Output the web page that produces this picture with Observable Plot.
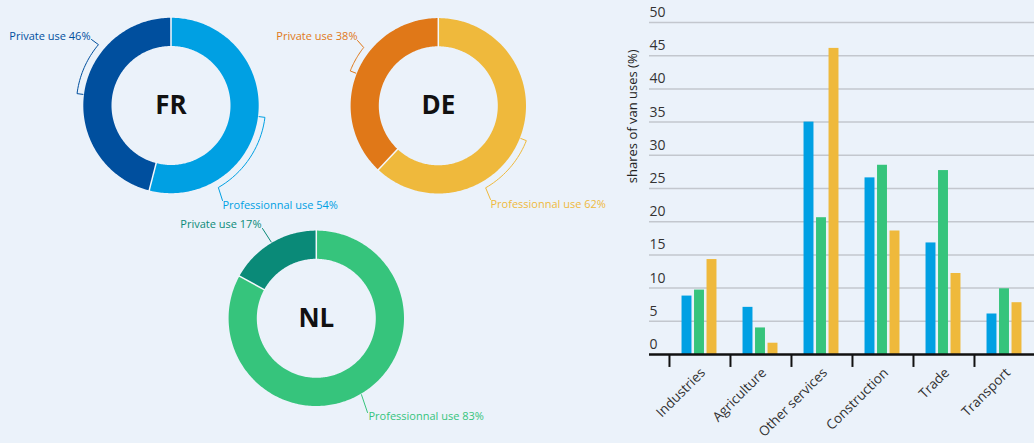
<!DOCTYPE html>
<html>
<head>
<meta charset="utf-8">
<script src="https://cdn.jsdelivr.net/npm/d3@7"></script>
<script src="https://cdn.jsdelivr.net/npm/@observablehq/plot@0.6"></script>
<style>
  html, body { margin: 0; padding: 0; background: #ebf2fa; }
  #root { position: relative; width: 1034px; height: 443px; overflow: hidden; background: #ebf2fa; font-family: "Open Sans", sans-serif; }
  #donuts { position: absolute; left: 0; top: 0; }
  #bars { position: absolute; left: 600px; top: 0; }
</style>
</head>
<body>
<div id="root"><div id="donuts"></div><div id="bars"></div></div>
<script>
// ---------- DATA ----------
const countries = ["FR", "DE", "NL"];
const privateShare = [46, 38, 17];
const professionalShare = [54, 62, 83];
const privateLabel = "Private use";
const professionalLabel = "Professionnal use";

const sectors = ["Industries", "Agriculture", "Other services", "Construction", "Trade", "Transport"];
const frValues = [8.8, 7.1, 35.0, 26.6, 16.8, 6.1];
const nlValues = [9.7, 4.0, 20.6, 28.5, 27.7, 9.9];
const deValues = [14.3, 1.7, 46.1, 18.6, 12.2, 7.8];
const yTicks = [0, 5, 10, 15, 20, 25, 30, 35, 40, 45, 50];
const yLabel = "shares of van uses (%)";

// ---------- STYLE / LAYOUT ----------
const privateColors = {FR: "#004f9e", DE: "#e07818", NL: "#0a8a78"};
const professionalColors = {FR: "#00a0e3", DE: "#efb93c", NL: "#36c47c"};
const barColors = {FR: "#00a0e3", NL: "#36c47c", DE: "#efb93c"};
const centers = {FR: [170.5, 105], DE: [437.8, 105.3], NL: [315.8, 317.8]};
const rOuter = 87.7, rInner = 59.5;
// leader layouts: a2 = angle where bracket ends (null = straight), end = line end, text = label anchor
const leaderLayout = {
  FR: {priv: {a2: 310, end: [91, 39], text: [90, 36], anchor: "end"},
       prof: {a2: 150, end: [222, 200], text: [222, 205], anchor: "start"}},
  DE: {priv: {a2: 308, end: [357, 40], text: [357, 36], anchor: "end"},
       prof: {a2: 150, end: [490, 199], text: [490, 204], anchor: "start"}},
  NL: {priv: {a2: null, end: [262, 228], text: [261, 224], anchor: "end"},
       prof: {a2: null, end: [367, 412], text: [368, 416], anchor: "start"}}
};

function pt(c, ang, r) {
  const a = ang * Math.PI / 180;
  return [c[0] + r * Math.sin(a), c[1] - r * Math.cos(a)];
}

const ring = [], seps = [], leaders = [], labels = [], centerLabels = [];
countries.forEach((k, i) => {
  const c = centers[k];
  const split = professionalShare[i] * 3.6;
  const slices = [
    {key: "prof", a0: 0, a1: split, color: professionalColors[k], text: `${professionalLabel} ${professionalShare[i]}%`},
    {key: "priv", a0: split, a1: 360, color: privateColors[k], text: `${privateLabel} ${privateShare[i]}%`}
  ];
  slices.forEach(s => {
    const id = k + s.key;
    const n = Math.ceil(s.a1 - s.a0);
    for (let j = 0; j <= n; j++) {
      const a = s.a0 + (s.a1 - s.a0) * j / n;
      const [x, y] = pt(c, a, (rOuter + rInner) / 2);
      ring.push({id, x, y, color: s.color});
    }
    const L = leaderLayout[k][s.key];
    const mid = (s.a0 + s.a1) / 2;
    const p0 = pt(c, mid, rOuter + 1);
    leaders.push({id, x: p0[0], y: p0[1], color: s.color});
    if (L.a2 !== null) {
      const m = 20;
      for (let j = 0; j <= m; j++) {
        const a = mid + (L.a2 - mid) * j / m;
        const p = pt(c, a, rOuter + 7);
        leaders.push({id, x: p[0], y: p[1], color: s.color});
      }
    }
    leaders.push({id, x: L.end[0], y: L.end[1], color: s.color});
    labels.push({x: L.text[0], y: L.text[1], text: s.text, color: s.color, anchor: L.anchor});
  });
  [0, split].forEach(a => {
    const p1 = pt(c, a, rInner - 1), p2 = pt(c, a, rOuter + 1);
    seps.push({x1: p1[0], y1: p1[1], x2: p2[0], y2: p2[1]});
  });
  centerLabels.push({x: c[0], y: c[1], text: k});
});

const donutPlot = Plot.plot({
  width: 600, height: 443,
  margin: 0,
  x: {domain: [0, 600], range: [0, 600], axis: null},
  y: {domain: [0, 443], range: [0, 443], axis: null},
  color: {type: "identity"},
  style: {background: "transparent", overflow: "visible"},
  marks: [
    Plot.line(ring, {x: "x", y: "y", z: "id", stroke: "color", strokeWidth: rOuter - rInner, strokeLinecap: "butt", strokeLinejoin: "round"}),
    Plot.link(seps, {x1: "x1", y1: "y1", x2: "x2", y2: "y2", stroke: "#f4f8fc", strokeWidth: 1.5}),
    Plot.line(leaders, {x: "x", y: "y", z: "id", stroke: "color", strokeWidth: 1}),
    Plot.text(labels.filter(d => d.anchor === "end"), {x: "x", y: "y", text: "text", fill: "color", textAnchor: "end", fontSize: 11, fontFamily: "Open Sans"}),
    Plot.text(labels.filter(d => d.anchor === "start"), {x: "x", y: "y", text: "text", fill: "color", textAnchor: "start", fontSize: 11, fontFamily: "Open Sans"}),
    Plot.text(centerLabels, {x: "x", y: "y", text: "text", fill: "#111", fontSize: 26, fontWeight: "bold", fontFamily: "Open Sans"})
  ]
});
document.getElementById("donuts").appendChild(donutPlot);

// ---------- BAR CHART ----------
const series = [
  {k: "FR", values: frValues, dx: -13},
  {k: "NL", values: nlValues, dx: -0.5},
  {k: "DE", values: deValues, dx: 12}
];
const bw = 10, band = 61.06;
const barMarks = series.map(s => Plot.barY(
  sectors.map((sec, i) => ({sector: sec, value: s.values[i]})),
  {x: "sector", y: "value", fill: barColors[s.k], dx: s.dx, insetLeft: (band - bw) / 2, insetRight: (band - bw) / 2}
));

const barPlot = Plot.plot({
  width: 434, height: 443,
  marginLeft: 49, marginRight: 0, marginTop: 22, marginBottom: 89,
  x: {type: "band", domain: sectors, range: [69, 69 + band * 6], padding: 0, axis: null},
  y: {domain: [0, 50], axis: null},
  style: {background: "transparent", overflow: "visible", fontFamily: "Open Sans"},
  marks: [
    Plot.ruleY(yTicks.filter(d => d > 0), {stroke: "#c3c7ce", strokeWidth: 1.5}),
    Plot.text(yTicks, {y: d => d, text: d => String(d), frameAnchor: "left", textAnchor: "start", dy: -10, fontSize: 14, fill: "#333"}),
    Plot.text([yLabel], {y: () => 25.8, text: d => d, frameAnchor: "left", dx: -17, rotate: -90, fontSize: 13, fill: "#222"}),
    ...barMarks,
    Plot.ruleY([0], {stroke: "#111", strokeWidth: 2.5}),
    Plot.ruleX(sectors, {x: d => d, dx: -band / 2, y1: 0, y2: -1.95, stroke: "#111", strokeWidth: 2}),
    Plot.text(sectors, {x: d => d, y: () => 0, text: d => d, dx: 3, dy: 16, rotate: -45, textAnchor: "end", fontSize: 13.5, fill: "#333"})
  ]
});
document.getElementById("bars").appendChild(barPlot);
</script>
</body>
</html>
